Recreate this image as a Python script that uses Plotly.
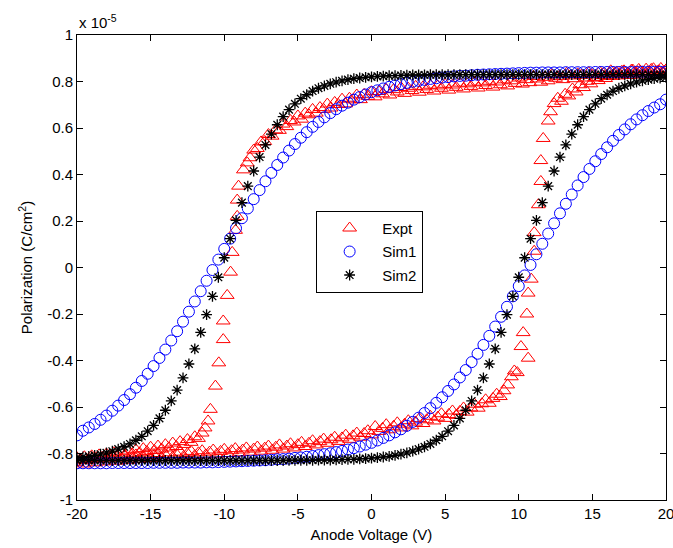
import plotly.graph_objects as go

# Voltage sweep used by both simulations (0.4 V steps)
sweep_down = [round(20 - 0.4 * i, 1) for i in range(101)]
sweep_up = [round(-20 + 0.4 * i, 1) for i in range(101)]

# Sim1 polarization (x 1e-5 C/cm^2), descending sweep +20 -> -20
sim1_down = [0.842, 0.842, 0.842, 0.842, 0.842, 0.842, 0.841, 0.841, 0.841, 0.841,
             0.841, 0.841, 0.841, 0.840, 0.840, 0.840, 0.840, 0.840, 0.839, 0.839,
             0.839, 0.839, 0.838, 0.838, 0.837, 0.836, 0.835, 0.834, 0.833, 0.832,
             0.831, 0.830, 0.829, 0.827, 0.825, 0.824, 0.822, 0.819, 0.817, 0.814,
             0.811, 0.807, 0.803, 0.799, 0.794, 0.789, 0.783, 0.777, 0.770, 0.762,
             0.754, 0.744, 0.733, 0.722, 0.709, 0.696, 0.681, 0.664, 0.646, 0.626,
             0.605, 0.582, 0.558, 0.531, 0.503, 0.473, 0.441, 0.407, 0.371, 0.333,
             0.294, 0.254, 0.212, 0.169, 0.124, 0.080, 0.034, -0.011, -0.057, -0.102,
             -0.146, -0.190, -0.233, -0.274, -0.314, -0.353, -0.389, -0.424, -0.457, -0.488,
             -0.517, -0.545, -0.570, -0.594, -0.616, -0.637, -0.655, -0.673, -0.688, -0.702,
             -0.722]
# Sim1 ascending sweep -20 -> +20
sim1_up = [-0.842, -0.842, -0.842, -0.842, -0.842, -0.842, -0.841, -0.841, -0.841, -0.841,
           -0.841, -0.841, -0.841, -0.840, -0.840, -0.840, -0.840, -0.840, -0.839, -0.839,
           -0.839, -0.839, -0.838, -0.838, -0.837, -0.836, -0.835, -0.834, -0.833, -0.832,
           -0.831, -0.830, -0.829, -0.827, -0.825, -0.824, -0.822, -0.819, -0.817, -0.814,
           -0.811, -0.807, -0.803, -0.799, -0.794, -0.789, -0.783, -0.777, -0.770, -0.762,
           -0.754, -0.744, -0.733, -0.722, -0.709, -0.696, -0.681, -0.664, -0.646, -0.626,
           -0.605, -0.582, -0.558, -0.531, -0.503, -0.473, -0.441, -0.407, -0.371, -0.333,
           -0.294, -0.254, -0.212, -0.169, -0.124, -0.080, -0.034, 0.011, 0.057, 0.102,
           0.146, 0.190, 0.233, 0.274, 0.314, 0.353, 0.389, 0.424, 0.457, 0.488,
           0.517, 0.545, 0.570, 0.594, 0.616, 0.637, 0.655, 0.673, 0.688, 0.702,
           0.722]

# Sim2 polarization, descending sweep +20 -> -20
sim2_down = [0.830] * 36 + [
    0.829, 0.829, 0.829, 0.829, 0.829, 0.828, 0.828, 0.828, 0.827, 0.826,
    0.825, 0.825, 0.823, 0.822, 0.820, 0.818, 0.815, 0.812, 0.808, 0.803,
    0.797, 0.790, 0.781, 0.771, 0.759, 0.743, 0.726, 0.704, 0.679, 0.649,
    0.614, 0.574, 0.527, 0.475, 0.415, 0.350, 0.279, 0.203, 0.124, 0.042,
    -0.042, -0.124, -0.203, -0.279, -0.350, -0.415, -0.475, -0.527, -0.574, -0.614,
    -0.649, -0.679, -0.704, -0.726, -0.743, -0.759, -0.771, -0.781, -0.790, -0.797,
    -0.803, -0.808, -0.812, -0.815, -0.818]
# Sim2 ascending sweep -20 -> +20
sim2_up = [-0.830] * 36 + [
    -0.829, -0.829, -0.829, -0.829, -0.829, -0.828, -0.828, -0.828, -0.827, -0.826,
    -0.825, -0.825, -0.823, -0.822, -0.820, -0.818, -0.815, -0.812, -0.808, -0.803,
    -0.797, -0.790, -0.781, -0.771, -0.759, -0.743, -0.726, -0.704, -0.679, -0.649,
    -0.614, -0.574, -0.527, -0.475, -0.415, -0.350, -0.279, -0.203, -0.124, -0.042,
    0.042, 0.124, 0.203, 0.279, 0.350, 0.415, 0.475, 0.527, 0.574, 0.614,
    0.649, 0.679, 0.704, 0.726, 0.743, 0.759, 0.771, 0.781, 0.790, 0.797,
    0.803, 0.808, 0.812, 0.815, 0.818]

# Measured loop, descending branch
expt_down_V = [20.00, 19.75, 19.50, 19.25, 19.00, 18.75, 18.50, 18.25, 18.00, 17.75,
               17.50, 17.25, 17.00, 16.75, 16.50, 16.25, 16.00, 15.75, 15.50, 15.25,
               15.00, 14.75, 14.50, 14.25, 14.00, 13.75, 13.50, 13.25, 13.00, 12.75,
               12.50, 12.25, 12.00, 11.75, 11.50, 11.25, 11.00, 10.75, 10.50, 10.25,
               10.00, 9.75, 9.50, 9.25, 9.00, 8.75, 8.50, 8.25, 8.00, 7.75,
               7.50, 7.25, 7.00, 6.75, 6.50, 6.25, 6.00, 5.75, 5.50, 5.25,
               5.00, 4.75, 4.50, 4.25, 4.00, 3.75, 3.50, 3.25, 3.00, 2.75,
               2.50, 2.25, 2.00, 1.75, 1.50, 1.25, 1.00, 0.75, 0.50, 0.25,
               0.00, -0.25, -0.50, -0.75, -1.00, -1.25, -1.50, -1.75, -2.00, -2.25,
               -2.50, -2.75, -3.00, -3.25, -3.50, -3.75, -4.00, -4.25, -4.50, -4.75,
               -5.00, -5.25, -5.50, -5.75, -6.00, -6.25, -6.50, -6.75, -7.00, -7.25,
               -7.50, -7.75, -8.00, -8.25, -8.44, -8.70, -9.03, -9.12, -9.12, -9.23,
               -9.46, -9.57, -9.80, -10.07, -10.07, -10.37, -10.60, -10.94, -11.10, -11.30,
               -11.50, -11.75, -12.00, -12.25, -12.50, -12.75, -13.00, -13.25, -13.50, -13.75,
               -14.00, -14.25, -14.50, -14.75, -15.00, -15.25, -15.50, -15.75, -16.00, -16.25,
               -16.50, -16.75, -17.00, -17.25, -17.50, -17.75, -18.00, -18.25, -18.50, -18.75,
               -19.00, -19.25, -19.50, -19.75, -20.00]
expt_down_P = [0.850, 0.838, 0.846, 0.832, 0.852, 0.840, 0.828, 0.845, 0.836, 0.849,
               0.826, 0.838, 0.844, 0.824, 0.835, 0.846, 0.822, 0.834, 0.841, 0.818,
               0.829, 0.838, 0.815, 0.827, 0.833, 0.812, 0.824, 0.835, 0.808, 0.822,
               0.814, 0.829, 0.803, 0.818, 0.797, 0.811, 0.822, 0.795, 0.808, 0.789,
               0.815, 0.792, 0.803, 0.781, 0.807, 0.786, 0.798, 0.776, 0.801, 0.783,
               0.794, 0.772, 0.797, 0.779, 0.790, 0.768, 0.793, 0.775, 0.785, 0.763,
               0.788, 0.771, 0.781, 0.759, 0.784, 0.766, 0.777, 0.754, 0.779, 0.761,
               0.771, 0.749, 0.774, 0.755, 0.765, 0.742, 0.766, 0.747, 0.757, 0.734,
               0.756, 0.736, 0.745, 0.722, 0.742, 0.721, 0.728, 0.704, 0.724, 0.701,
               0.710, 0.686, 0.703, 0.680, 0.688, 0.664, 0.680, 0.657, 0.664, 0.638,
               0.652, 0.626, 0.632, 0.606, 0.617, 0.590, 0.592, 0.565, 0.572, 0.542,
               0.540, 0.512, 0.505, 0.472, 0.450, 0.420, 0.350, 0.290, 0.220, 0.160,
               0.065, -0.020, -0.120, -0.230, -0.310, -0.410, -0.510, -0.610, -0.660, -0.690,
               -0.712, -0.735, -0.728, -0.752, -0.740, -0.761, -0.749, -0.770, -0.755, -0.776,
               -0.762, -0.781, -0.768, -0.787, -0.773, -0.792, -0.779, -0.797, -0.784, -0.801,
               -0.789, -0.806, -0.793, -0.811, -0.797, -0.815, -0.802, -0.818, -0.806, -0.822,
               -0.810, -0.826, -0.814, -0.829, -0.818]

# Measured loop, ascending branch
expt_up_V = [-20.00, -19.75, -19.50, -19.25, -19.00, -18.75, -18.50, -18.25, -18.00, -17.75,
             -17.50, -17.25, -17.00, -16.75, -16.50, -16.25, -16.00, -15.75, -15.50, -15.25,
             -15.00, -14.75, -14.50, -14.25, -14.00, -13.75, -13.50, -13.25, -13.00, -12.75,
             -12.50, -12.25, -12.00, -11.75, -11.50, -11.25, -11.00, -10.75, -10.50, -10.25,
             -10.00, -9.75, -9.50, -9.25, -9.00, -8.75, -8.50, -8.25, -8.00, -7.75,
             -7.50, -7.25, -7.00, -6.75, -6.50, -6.25, -6.00, -5.75, -5.50, -5.25,
             -5.00, -4.75, -4.50, -4.25, -4.00, -3.75, -3.50, -3.25, -3.00, -2.75,
             -2.50, -2.25, -2.00, -1.75, -1.50, -1.25, -1.00, -0.75, -0.50, -0.25,
             0.00, 0.25, 0.50, 0.75, 1.00, 1.25, 1.50, 1.75, 2.00, 2.25,
             2.50, 2.75, 3.00, 3.25, 3.50, 3.75, 4.00, 4.25, 4.50, 4.75,
             5.00, 5.25, 5.50, 5.75, 6.00, 6.25, 6.50, 6.75, 7.00, 7.25,
             7.50, 7.75, 8.00, 8.25, 8.50, 8.75, 9.00, 9.25, 9.50, 9.70,
             9.90, 10.64, 10.15, 10.30, 10.55, 10.64, 10.85, 11.05, 11.05, 11.33,
             11.50, 11.50, 11.66, 12.00, 12.16, 12.40, 12.65, 12.90, 13.15, 13.40,
             13.65, 13.90, 14.15, 14.40, 14.65, 14.90, 15.15, 15.40, 15.65, 15.90,
             16.15, 16.40, 16.65, 16.90, 17.15, 17.40, 17.65, 17.90, 18.15, 18.40,
             18.65, 18.90, 19.15, 19.40, 19.65, 19.90]
expt_up_P = [-0.838, -0.826, -0.845, -0.831, -0.822, -0.840, -0.827, -0.818, -0.836, -0.823,
             -0.814, -0.833, -0.820, -0.810, -0.829, -0.816, -0.806, -0.825, -0.812, -0.803,
             -0.821, -0.809, -0.800, -0.818, -0.806, -0.797, -0.815, -0.803, -0.794, -0.812,
             -0.800, -0.791, -0.809, -0.797, -0.788, -0.806, -0.794, -0.785, -0.803, -0.791,
             -0.782, -0.800, -0.788, -0.779, -0.797, -0.785, -0.776, -0.794, -0.781, -0.772,
             -0.790, -0.777, -0.768, -0.786, -0.773, -0.763, -0.781, -0.768, -0.758, -0.776,
             -0.762, -0.752, -0.770, -0.756, -0.745, -0.763, -0.749, -0.738, -0.756, -0.741,
             -0.730, -0.748, -0.733, -0.721, -0.739, -0.724, -0.712, -0.730, -0.714, -0.702,
             -0.720, -0.684, -0.705, -0.692, -0.676, -0.698, -0.683, -0.668, -0.690, -0.674,
             -0.659, -0.681, -0.665, -0.650, -0.671, -0.655, -0.640, -0.660, -0.644, -0.629,
             -0.649, -0.632, -0.617, -0.636, -0.619, -0.604, -0.622, -0.604, -0.588, -0.605,
             -0.586, -0.569, -0.584, -0.563, -0.545, -0.555, -0.530, -0.505, -0.470, -0.445,
             -0.452, -0.390, -0.340, -0.280, -0.200, -0.110, -0.050, 0.070, 0.150, 0.270,
             0.370, 0.460, 0.555, 0.630, 0.670, 0.705, 0.728, 0.715, 0.745, 0.738,
             0.768, 0.755, 0.786, 0.774, 0.801, 0.790, 0.815, 0.804, 0.826, 0.813,
             0.834, 0.822, 0.841, 0.829, 0.846, 0.834, 0.849, 0.837, 0.852, 0.840,
             0.853, 0.842, 0.855, 0.843, 0.856, 0.845]

x_ticks = [-20, -15, -10, -5, 0, 5, 10, 15, 20]
x_ticklabels = ["-20", "-15", "-10", "-5", "0", "5", "10", "15", "20"]
y_ticks = [-1, -0.8, -0.6, -0.4, -0.2, 0, 0.2, 0.4, 0.6, 0.8, 1]
y_ticklabels = ["-1", "-0.8", "-0.6", "-0.4", "-0.2", "0", "0.2", "0.4", "0.6", "0.8", "1"]

FONT = "Liberation Sans, Arial, sans-serif"

fig = go.Figure()
fig.add_trace(go.Scatter(
    x=expt_down_V + expt_up_V, y=expt_down_P + expt_up_P, mode="markers", name="Expt",
    legendgroup="a",
    marker=dict(symbol="triangle-up-open", size=12, color="#ff0000", line=dict(width=1, color="#ff0000"))))
fig.add_trace(go.Scatter(
    x=sweep_down + sweep_up, y=sim1_down + sim1_up, mode="markers", name="Sim1",
    legendgroup="b",
    marker=dict(symbol="circle-open", size=11, color="#0000ff", line=dict(width=1, color="#0000ff"))))
fig.add_trace(go.Scatter(
    x=sweep_down + sweep_up, y=sim2_down + sim2_up, mode="markers", name="Sim2",
    legendgroup="c",
    marker=dict(symbol="asterisk-open", size=9, color="#000000", line=dict(width=1.3, color="#000000"))))

axis_common = dict(showline=True, linecolor="black", linewidth=1, mirror="ticks",
                   ticks="inside", ticklen=6, tickcolor="black", showgrid=False,
                   zeroline=False, ticklabeloverflow="allow", automargin=False,
                   tickfont=dict(family=FONT, size=15, color="black"))
fig.update_xaxes(range=[-20, 20], tickvals=x_ticks, ticktext=x_ticklabels,
                 title=dict(text="Anode Voltage (V)", font=dict(family=FONT, size=15, color="black"),
                            standoff=8),
                 **axis_common)
fig.update_yaxes(range=[-1, 1], tickvals=y_ticks, ticktext=y_ticklabels,
                 title=dict(text="Polarization (C/cm<sup>2</sup>)",
                            font=dict(family=FONT, size=15, color="black"), standoff=10),
                 **axis_common)

fig.add_annotation(xref="paper", yref="paper", x=0, y=1, xanchor="left", yanchor="bottom",
                   yshift=2, showarrow=False, text="x 10<sup>-5</sup>",
                   font=dict(family=FONT, size=15, color="black"))

fig.update_layout(
    width=673, height=548,
    margin=dict(l=77, r=7, t=35, b=48),
    plot_bgcolor="white", paper_bgcolor="white",
    showlegend=True,
    legend=dict(x=0.406, y=0.622, xanchor="left", yanchor="top",
                bgcolor="white", bordercolor="black", borderwidth=1,
                font=dict(family=FONT, size=15, color="black"),
                tracegroupgap=1, itemwidth=55),
)

fig.write_html("out.html")
